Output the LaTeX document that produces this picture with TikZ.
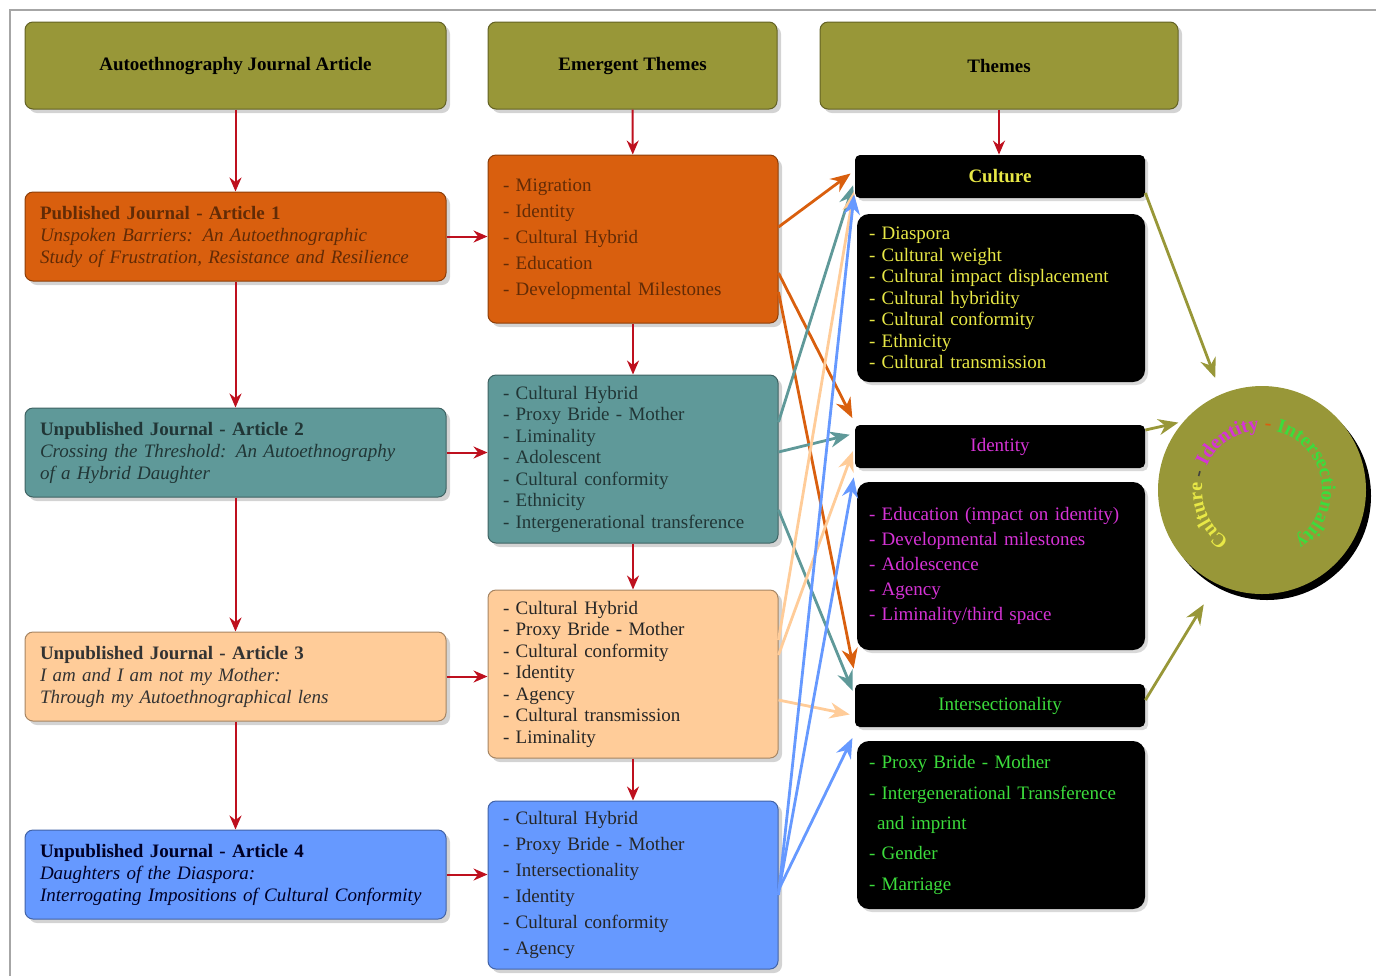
\documentclass[tikz,border=0pt]{standalone}
\usepackage{fontspec}
\setmainfont{Liberation Serif}
\usetikzlibrary{arrows.meta}
\usetikzlibrary{shadows}
\usetikzlibrary{decorations.text}

\definecolor{hdrolive}{RGB}{152,151,56}
\definecolor{artorange}{RGB}{217,95,14}
\definecolor{artteal}{RGB}{95,153,153}
\definecolor{artpeach}{RGB}{255,204,153}
\definecolor{artblue}{RGB}{102,153,255}
\definecolor{flowred}{RGB}{190,16,30}
\definecolor{cultyellow}{RGB}{232,232,70}
\definecolor{idenmagenta}{RGB}{214,51,214}
\definecolor{intergreen}{RGB}{60,220,60}

\tikzset{
	panel/.style={rectangle, rounded corners=4pt, draw=#1!65!black, fill=#1, line width=0.5pt,
		drop shadow={shadow xshift=2pt, shadow yshift=-2pt, opacity=0.35}},
	hdr/.style={panel=hdrolive, minimum width=#1, minimum height=43.5pt, font=\fontsize{9.5}{11}\selectfont\bfseries},
	article/.style={panel=#1, text width=195.5pt, inner xsep=7.5pt, minimum height=44.5pt, align=left,
		font=\fontsize{9.5}{11}\selectfont},
	emerg/.style 2 args={panel=#1, text width=130pt, inner xsep=7.5pt, minimum height=84pt, align=left,
		font=\fontsize{9.5}{#2}\selectfont},
	theme/.style={rectangle, rounded corners=2.5pt, fill=black, minimum width=145pt, minimum height=21.5pt,
		font=\fontsize{9.5}{11}\selectfont, drop shadow={shadow xshift=1.5pt, shadow yshift=-1.5pt, opacity=0.3}},
	themelist/.style 2 args={rectangle, rounded corners=6pt, fill=black, text width=132pt, inner xsep=6pt,
		minimum height=84pt, align=left, text=#1, font=\fontsize{9.5}{#2}\selectfont,
		drop shadow={shadow xshift=1.5pt, shadow yshift=-1.5pt, opacity=0.3}},
	flow/.style={-{Stealth[length=7pt,width=6pt]}, draw=flowred, line width=1pt},
	link/.style={-{Stealth[length=10pt,width=8pt]}, draw=#1, line width=1.4pt, shorten >=2.5pt},
	ringtext/.style={|\fontsize{10}{10}\selectfont\bfseries\color{#1}|},
}

\begin{document}
\begin{tikzpicture}[x=0.5pt, y=0.5pt]
	\useasboundingbox (0,0) rectangle (1376,-976);
	\draw[gray!70, line width=0.6pt] (10,-976) -- (10,-10) -- (1376,-10);

	% column headers
	\node[hdr=210.5pt] (h1) at (235.5,-65.5) {Autoethnography Journal Article};
	\node[hdr=144.5pt] (h2) at (632.5,-65.5) {Emergent Themes};
	\node[hdr=179pt] (h3) at (999,-65.5) {Themes};

	% articles
	\node[article=artorange, text=artorange!45!black] (a1) at (235.5,-236.5)
		{\textbf{Published Journal - Article 1}\\\textit{Unspoken Barriers: An Autoethnographic}\\\textit{Study of Frustration, Resistance and Resilience}};
	\node[article=artteal, text=artteal!35!black] (a2) at (235.5,-452.5)
		{\textbf{Unpublished Journal - Article 2}\\\textit{Crossing the Threshold: An Autoethnography}\\\textit{of a Hybrid Daughter}};
	\node[article=artpeach, text=black!80] (a3) at (235.5,-676.5)
		{\textbf{Unpublished Journal - Article 3}\\\textit{I am and I am not my Mother:}\\\textit{Through my Autoethnographical lens}};
	\node[article=artblue, text=blue!15!black] (a4) at (235.5,-874.5)
		{\textbf{Unpublished Journal - Article 4}\\\textit{Daughters of the Diaspora:}\\\textit{Interrogating Impositions of Cultural Conformity}};

	% emergent themes
	\node[emerg={artorange}{13}, text=artorange!45!black] (e1) at (633,-239)
		{- Migration\\- Identity\\- Cultural Hybrid\\- Education\\- Developmental Milestones};
	\node[emerg={artteal}{10.75}, text=artteal!35!black] (e2) at (633,-459)
		{- Cultural Hybrid\\- Proxy Bride - Mother\\- Liminality\\- Adolescent\\- Cultural conformity\\- Ethnicity\\- Intergenerational transference};
	\node[emerg={artpeach}{10.75}, text=black!85] (e3) at (633,-674)
		{- Cultural Hybrid\\- Proxy Bride - Mother\\- Cultural conformity\\- Identity\\- Agency\\- Cultural transmission\\- Liminality};
	\node[emerg={artblue}{13}, text=black!85] (e4) at (633,-885)
		{- Cultural Hybrid\\- Proxy Bride - Mother\\- Intersectionality\\- Identity\\- Cultural conformity\\- Agency};

	% themes
	\node[theme, text=cultyellow] (cult) at (1000,-176.5) {\textbf{Culture}};
	\node[themelist={cultyellow}{10.75}] (cultlist) at (1001,-298)
		{- Diaspora\\- Cultural weight\\- Cultural impact displacement\\- Cultural hybridity\\- Cultural conformity\\- Ethnicity\\- Cultural transmission};
	\node[theme, text=idenmagenta] (iden) at (1000,-446.5) {Identity};
	\node[themelist={idenmagenta}{12.6}] (idenlist) at (1001,-566)
		{- Education (impact on identity)\\- Developmental milestones\\- Adolescence\\- Agency\\- Liminality/third space};
	\node[theme, text=intergreen] (inter) at (1000,-705.5) {Intersectionality};
	\node[themelist={intergreen}{15.2}] (interlist) at (1001,-825)
		{- Proxy Bride - Mother\\- Intergenerational Transference\\\hspace*{4pt}and imprint\\- Gender\\- Marriage};

	% combined circle
	\node[circle, fill=hdrolive, minimum size=104pt, inner sep=0pt,
		drop shadow={shadow xshift=2.5pt, shadow yshift=-3pt, opacity=1, fill=black}] (circ) at (1262,-490) {};
	\path[decorate, decoration={text along path, text align=center,
		text={|\fontsize{10}{10}\selectfont\bfseries\color{cultyellow}|Culture |\fontsize{10}{10}\selectfont\bfseries\color{black!75}|- |\fontsize{10}{10}\selectfont\bfseries\color{idenmagenta}|Identity |\fontsize{10}{10}\selectfont\bfseries\color{artorange}|- |\fontsize{10}{10}\selectfont\bfseries\color{intergreen}|Intersectionality}}]
		(circ.center) ++(250:30pt) arc[start angle=250, end angle=-70, radius=30pt];

	% red flow
	\foreach \u/\v in {h1/a1, a1/a2, a2/a3, a3/a4, h2/e1, e1/e2, e2/e3, e3/e4}
		\draw[flow] (\u) -- (\v);
	\foreach \u/\v in {a1/e1, a2/e2, a3/e3, a4/e4}
		\draw[flow] (\u.east) -- (\u.east -| \v.west);
	\draw[flow] (h3.south) -- (h3.south |- cult.north);

	% emergent themes to themes
	\foreach \col/\src/\sy/\dst/\dy in {
		artorange/e1/6/cult/3, artorange/e1/-17/iden/12, artorange/e1/-26.5/inter/16,
		artteal/e2/18.5/cult/-2, artteal/e2/3.5/iden/6.5, artteal/e2/-25.5/inter/5,
		artpeach/e3/17/cult/-5, artpeach/e3/9.5/iden/0, artpeach/e3/-13/inter/-5,
		artblue/e4/-5/cult/-6.5, artblue/e4/-4/iden/-13, artblue/e4/-2.5/inter/-14}
		\draw[link=\col] ([yshift=\sy pt]\src.east) -- ([yshift=\dy pt]\dst.west);

	% themes to circle
	\draw[link=hdrolive, shorten >=8.5pt] ([yshift=-8.25pt]cult.east) -- (circ.113);
	\draw[link=hdrolive, shorten >=2.5pt] ([yshift=8.25pt]iden.east) -- (circ.139);
	\draw[link=hdrolive, shorten >=12pt] ([yshift=2.75pt]inter.east) -- (circ.244);
\end{tikzpicture}
\end{document}
